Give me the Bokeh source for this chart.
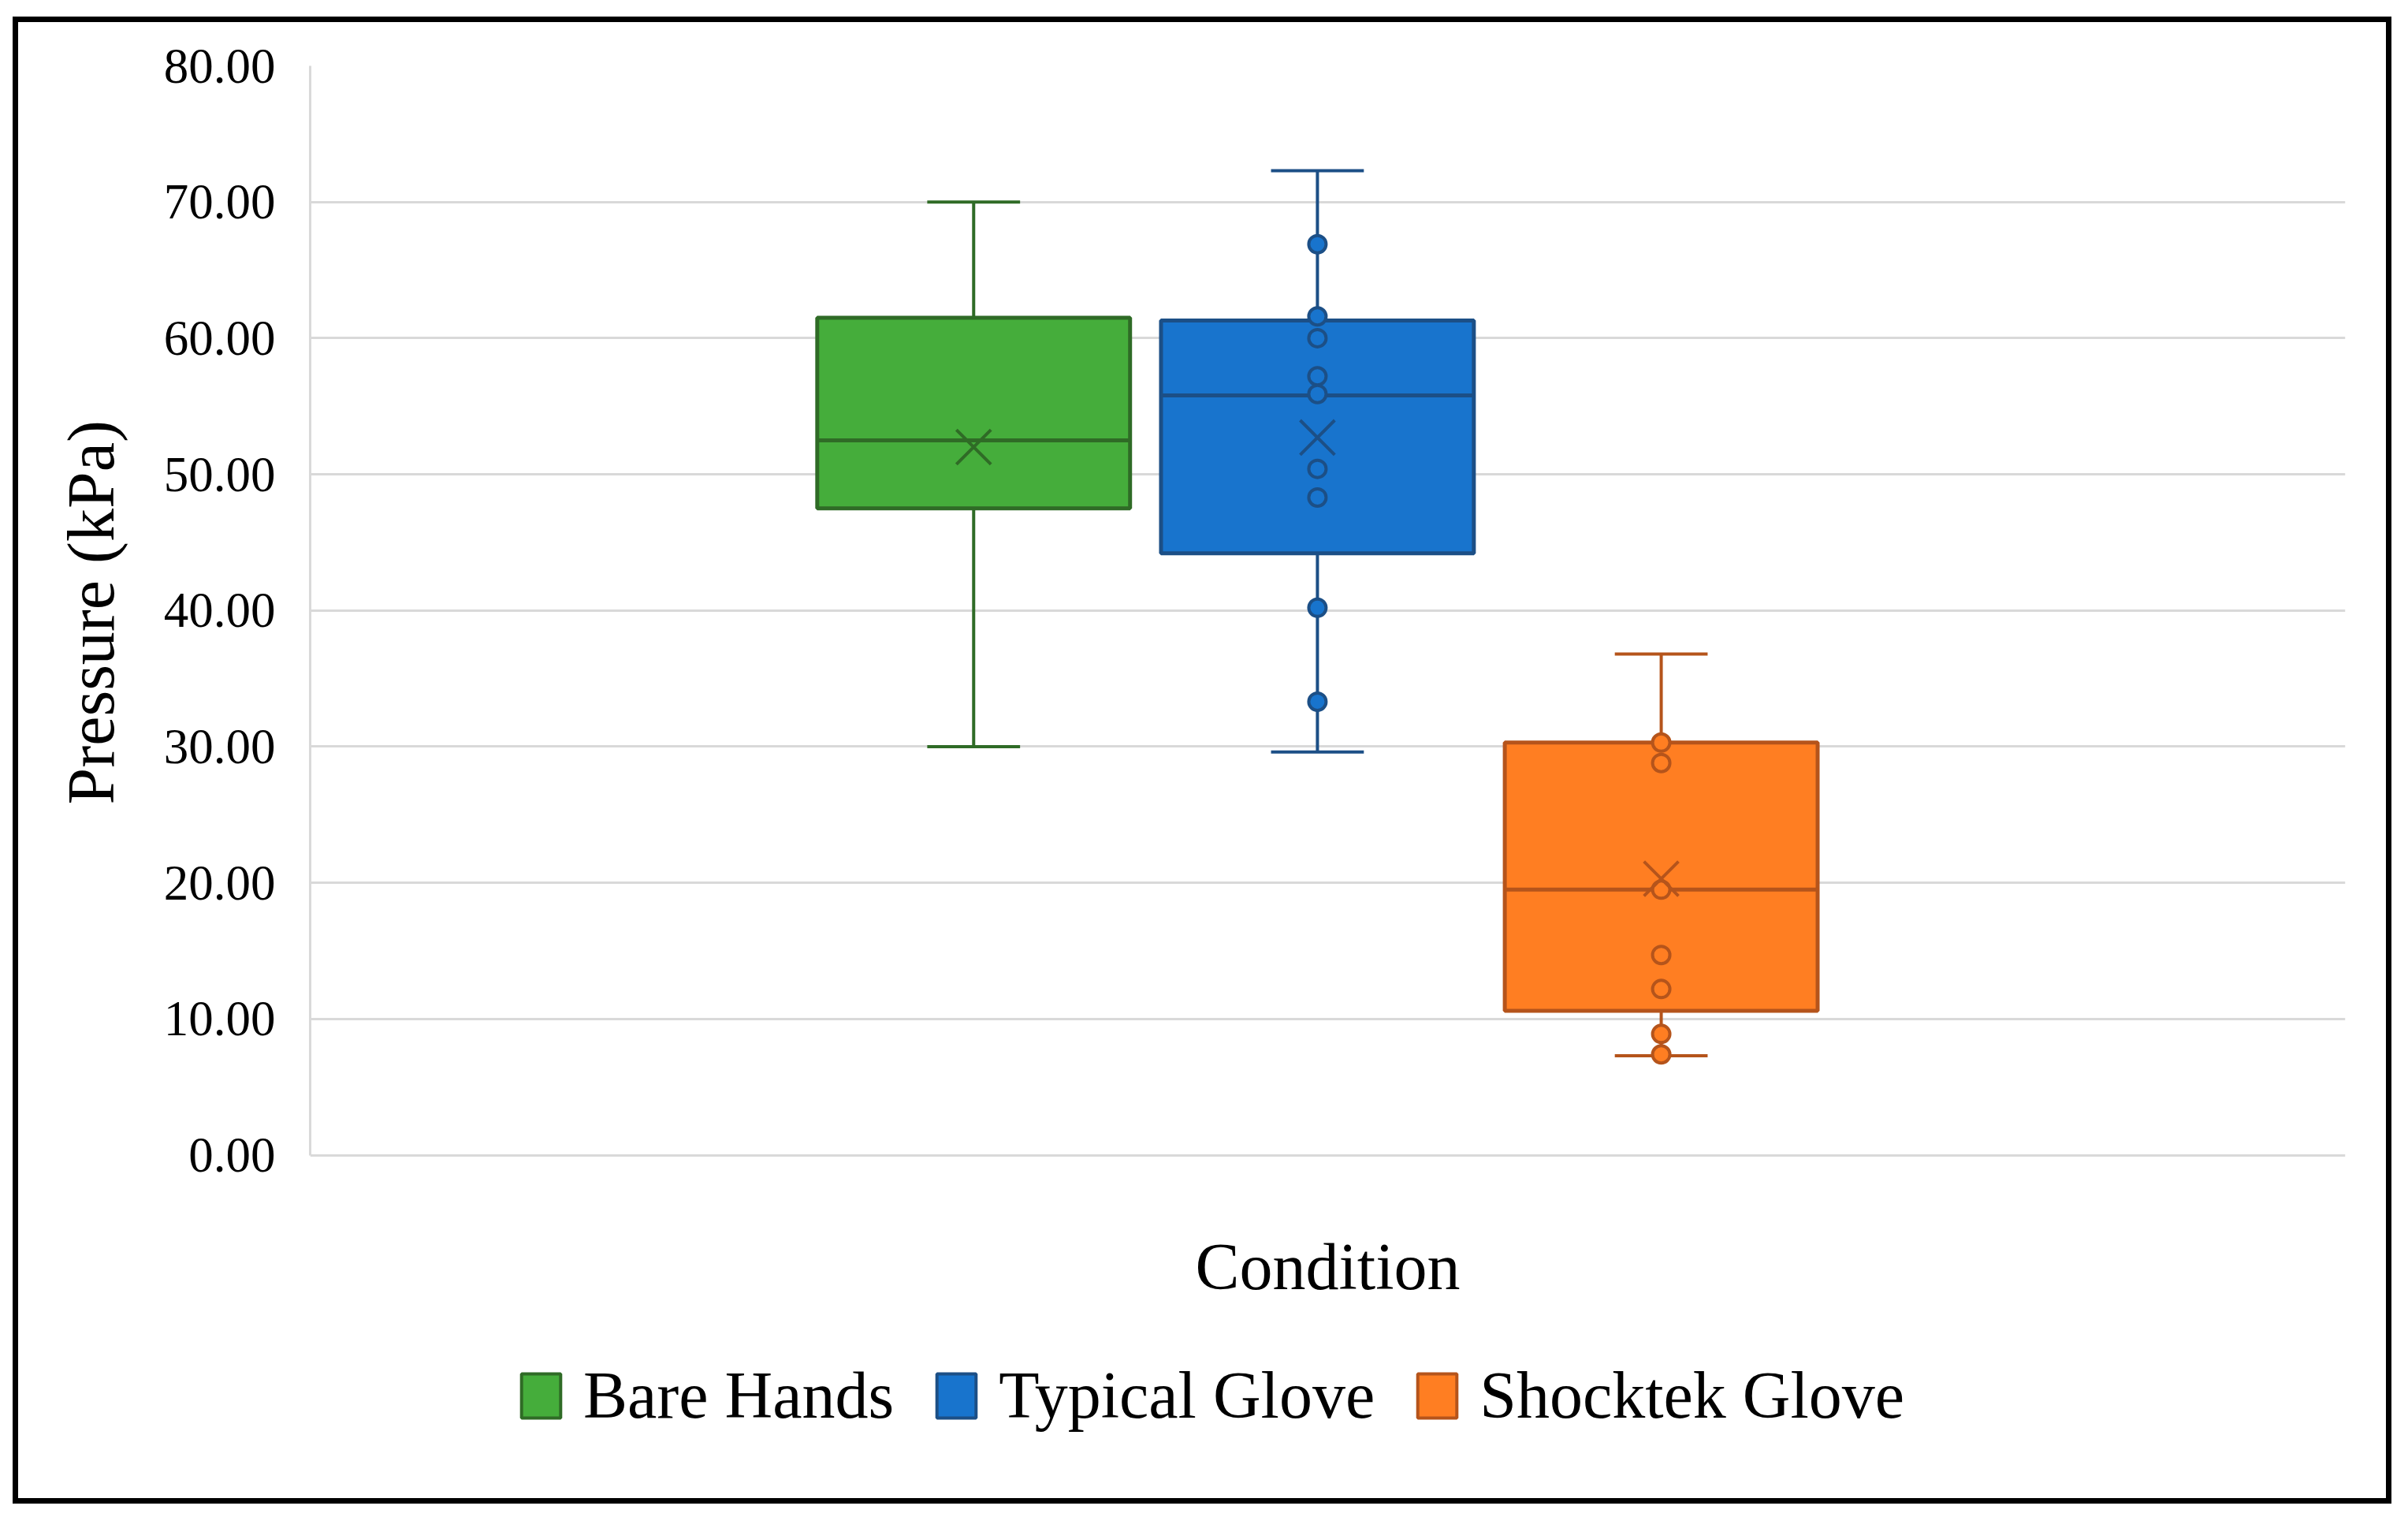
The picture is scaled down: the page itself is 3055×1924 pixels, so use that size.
from bokeh.plotting import figure
from bokeh.layouts import column, row
from bokeh.models import (ColumnDataSource, Legend, LegendItem, FixedTicker,
                          Range1d, Spacer, CustomJSTickFormatter, Label, Title)
from bokeh.embed import file_html
from bokeh.resources import INLINE

# summary values (kPa)
groups = ["Bare Hands", "Typical Glove", "Shocktek Glove"]
positions = [-1.0, 0.0, 1.0]
whisker_low = [30.0, 29.6, 7.3]
q1 = [47.5, 44.2, 10.6]
median = [52.5, 55.8, 19.5]
q3 = [61.5, 61.3, 30.3]
whisker_high = [70.0, 72.3, 36.8]
means = [52.0, 52.7, 20.3]

typical_points = [66.9, 61.6, 60.0, 57.2, 55.9, 50.4, 48.3, 40.2, 33.3]
shocktek_points = [30.3, 28.8, 19.5, 14.7, 12.2, 8.9, 7.4]

fills = ["#45ad3b", "#1874cd", "#ff7e22"]
strokes = ["#2f6b26", "#1c4f86", "#b5541b"]

y_ticks = [0, 10, 20, 30, 40, 50, 60, 70, 80]

FONT = "Liberation Serif"
BOX_W = 0.91
CAP_W = 0.27

# the frame runs down past 0 so the x title and legend can sit inside it
p = figure(width=3018, height=1886, output_backend="svg", toolbar_location=None,
           x_range=Range1d(-2.93, 2.99), y_range=Range1d(-25.1, 80),
           min_border_left=369, min_border_right=66, min_border_top=55,
           min_border_bottom=16)
p.styles = {"border": "7px solid black"}
p.outline_line_color = None
p.background_fill_color = "white"
p.border_fill_color = "white"
p.xaxis.visible = False

# grid
p.xgrid.grid_line_color = None
p.ygrid.grid_line_color = "#d9d9d9"
p.ygrid.grid_line_width = 3
p.yaxis.ticker = FixedTicker(ticks=y_ticks)
p.yaxis.bounds = (0, 80)

# y axis
p.yaxis.formatter = CustomJSTickFormatter(code="return tick.toFixed(2);")
p.yaxis.axis_line_color = "#d9d9d9"
p.yaxis.axis_line_width = 3
p.yaxis.major_tick_line_color = None
p.yaxis.minor_tick_line_color = None
p.yaxis.major_label_text_font = FONT
p.yaxis.major_label_text_font_size = "63px"
p.yaxis.major_label_text_color = "black"
p.yaxis.major_label_standoff = 38

# y title, anchored from the frame bottom so it centres on the 0-80 span
p.add_layout(Title(text="Pressure (kPa)", align="left", offset=878,
                   standoff=86, text_font=FONT, text_font_size="84px",
                   text_font_style="normal", text_color="black"), "left")

src = ColumnDataSource(dict(
    x=positions, lo=whisker_low, q1=q1, med=median, q3=q3, hi=whisker_high,
    mean=means, fill=fills, line=strokes,
    cl=[x - CAP_W / 2 for x in positions], cr=[x + CAP_W / 2 for x in positions],
    bl=[x - BOX_W / 2 for x in positions], br=[x + BOX_W / 2 for x in positions],
))

# whiskers and caps
p.segment("x", "hi", "x", "q3", source=src, line_color="line", line_width=4)
p.segment("x", "lo", "x", "q1", source=src, line_color="line", line_width=4)
p.segment("cl", "hi", "cr", "hi", source=src, line_color="line", line_width=4)
p.segment("cl", "lo", "cr", "lo", source=src, line_color="line", line_width=4)

# boxes
p.vbar(x="x", width=BOX_W, bottom="q1", top="q3", source=src,
       fill_color="fill", line_color="line", line_width=5)
p.segment("bl", "med", "br", "med", source=src, line_color="line", line_width=5)

# points
for i, pts in [(1, typical_points), (2, shocktek_points)]:
    p.scatter([positions[i]] * len(pts), pts, marker="circle", size=22,
              fill_color=fills[i], line_color=strokes[i], line_width=4)

# means
p.scatter("x", "mean", source=src, marker="x", size=62, line_color="line",
          line_width=4)

# x title
p.add_layout(Label(x=0.03, y=-8.2, text="Condition", text_font=FONT,
                   text_font_size="84px", text_color="black",
                   text_align="center", text_baseline="middle"))

# legend
items = []
for i, g in enumerate(groups):
    r = p.rect(x=[positions[i]], y=[-100], width=0.1, height=1,
               fill_color=fills[i], line_color=strokes[i], line_width=4)
    items.append(LegendItem(label=g, renderers=[r]))
legend = Legend(items=items, orientation="horizontal", location=(262, 80),
                label_text_font=FONT, label_text_font_size="84px",
                label_text_color="black", glyph_width=62, glyph_height=70,
                label_standoff=23, spacing=48, padding=0, margin=0,
                border_line_color=None, background_fill_alpha=0)
p.add_layout(legend, "center")

page = column(Spacer(height=21), row(Spacer(width=16), p))
open("out.html", "w").write(file_html(page, INLINE))
